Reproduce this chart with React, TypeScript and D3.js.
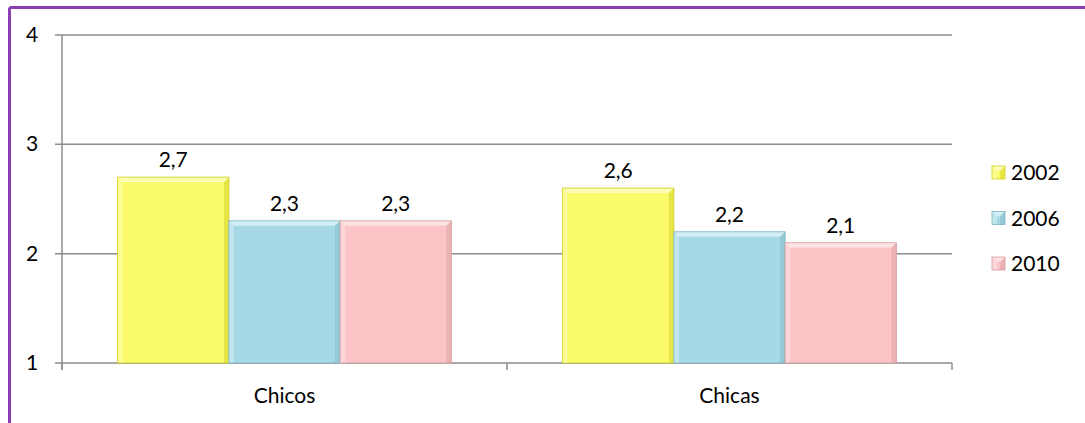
import React from "react";
import * as d3 from "d3";

const categories = ["Chicos", "Chicas"];
const seriesNames = ["2002", "2006", "2010"];
const values2002 = [2.7, 2.6];
const values2006 = [2.3, 2.2];
const values2010 = [2.3, 2.1];
const yTicks = [1, 2, 3, 4];

const seriesValues = [values2002, values2006, values2010];
const fills = ["#FAFA6A", "#A6D9E5", "#FBC4C7"];
const lights = ["#FDFDB4", "#D3EEF4", "#FDE2E3"];
const darks = ["#CFCF1C", "#7FB5C2", "#D69C9F"];

const W = 1085;
const H = 423;
const FONT = "Lato, 'Open Sans', sans-serif";

function Bar({ x, y, w, h, i }: { x: number; y: number; w: number; h: number; i: number }) {
  const b = 5;
  return (
    <g>
      <rect x={x} y={y} width={w} height={h} fill={fills[i]} />
      <polygon points={`${x},${y} ${x + w},${y} ${x + w - b},${y + b} ${x + b},${y + b}`} fill={lights[i]} />
      <polygon points={`${x},${y} ${x + b},${y + b} ${x + b},${y + h} ${x},${y + h}`} fill={lights[i]} opacity={0.6} />
      <polygon points={`${x + w},${y} ${x + w},${y + h} ${x + w - b},${y + h} ${x + w - b},${y + b}`} fill={darks[i]} opacity={0.45} />
      <rect x={x} y={y} width={w} height={h} fill="none" stroke={darks[i]} strokeWidth={0.8} />
    </g>
  );
}

export default function App() {
  const left = 62, right = 952, top = 35, bottom = 363;
  const y = d3.scaleLinear().domain([1, 4]).range([bottom, top]);
  const x0 = d3.scaleBand<string>().domain(categories).range([left, right]).padding(0);
  const x1 = d3
    .scaleBand<string>()
    .domain(seriesNames)
    .range([x0.bandwidth() * 0.125, x0.bandwidth() * 0.875])
    .padding(0);
  const fmt = (v: number) => v.toFixed(1).replace(".", ",");

  return (
    <svg width={W} height={H} style={{ position: "absolute", left: 0, top: 0, background: "#fff" }} fontFamily={FONT}>
      <rect x={0} y={0} width={W} height={H} fill="#fff" />
      {/* purple frame */}
      <line x1={9.5} y1={7.5} x2={W} y2={7.5} stroke="#8B3FB5" strokeWidth={3} />
      <line x1={9.5} y1={7.5} x2={9.5} y2={H} stroke="#8B3FB5" strokeWidth={3} />
      {/* grid */}
      {yTicks.map((t) => (
        <g key={t}>
          <line x1={left - 7} x2={right} y1={y(t)} y2={y(t)} stroke="#8C8C8C" strokeWidth={1.5} />
          <text x={32} y={y(t) + 7} fontSize={21} textAnchor="middle" fill="#000">{t}</text>
        </g>
      ))}
      <line x1={left} x2={left} y1={top} y2={bottom + 7} stroke="#8C8C8C" strokeWidth={1.5} />
      {[...categories.map((c) => x0(c)!), right].map((px, k) => (
        <line key={k} x1={px} x2={px} y1={bottom} y2={bottom + 7} stroke="#8C8C8C" strokeWidth={1.5} />
      ))}
      {/* bars */}
      {categories.map((c, ci) => (
        <g key={c}>
          {seriesNames.map((s, si) => {
            const v = seriesValues[si][ci];
            const bx = x0(c)! + x1(s)!;
            const bw = x1.bandwidth();
            const by = y(v);
            return (
              <g key={s}>
                <Bar x={bx} y={by} w={bw} h={bottom - by} i={si} />
                <text x={bx + bw / 2} y={by - 10} fontSize={21} textAnchor="middle" fill="#000">{fmt(v)}</text>
              </g>
            );
          })}
          <text x={x0(c)! + x0.bandwidth() / 2} y={403} fontSize={21} textAnchor="middle" fill="#000">{c}</text>
        </g>
      ))}
      {/* legend */}
      {seriesNames.map((s, si) => {
        const ly = 172 + si * 45.5;
        return (
          <g key={s}>
            <Bar x={992} y={ly - 6} w={13} h={13} i={si} />
            <text x={1011} y={ly + 8} fontSize={21} fill="#000">{s}</text>
          </g>
        );
      })}
    </svg>
  );
}
